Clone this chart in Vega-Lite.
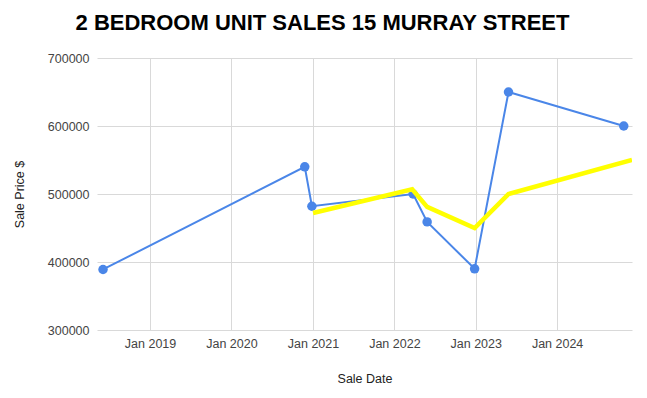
{
  "$schema": "https://vega.github.io/schema/vega-lite/v6.json",
  "width": 535,
  "height": 272,
  "autosize": {"type": "none"},
  "padding": {"left": 97, "top": 58, "right": 15, "bottom": 68},
  "title": {"text": "2 BEDROOM UNIT SALES 15 MURRAY STREET", "font": "Liberation Sans", "fontSize": 22, "fontWeight": "bold", "color": "#000000", "anchor": "middle", "dx": -42, "offset": 17},
  "config": {
    "view": {"stroke": null},
    "axis": {"labelFont": "Liberation Sans", "labelFontSize": 12.5, "labelColor": "#444444", "titleFont": "Liberation Sans", "titleFontSize": 12.5, "titleFontWeight": "normal", "titleColor": "#222222", "gridColor": "#d9d9d9", "gridWidth": 1, "domain": false, "ticks": false}
  },
  "datasets": {
    "sales": [
      {"date": "2018-06-04", "price": 389000},
      {"date": "2020-11-25", "price": 540000},
      {"date": "2020-12-27", "price": 482000},
      {"date": "2022-03-26", "price": 500000},
      {"date": "2022-05-28", "price": 459000},
      {"date": "2022-12-27", "price": 390000},
      {"date": "2023-05-28", "price": 650000},
      {"date": "2024-10-26", "price": 600000}
    ],
    "trend": [
      {"date": "2021-01-01", "price": 472000},
      {"date": "2022-03-22", "price": 507000},
      {"date": "2022-05-28", "price": 481000},
      {"date": "2022-12-27", "price": 450000},
      {"date": "2023-05-28", "price": 500000},
      {"date": "2024-12-02", "price": 550000}
    ]
  },
  "encoding": {
    "x": {"field": "date", "type": "temporal", "title": "Sale Date",
      "scale": {"domain": ["2018-05-08", "2024-12-02"]},
      "axis": {"format": "%b %Y", "tickCount": {"interval": "year", "step": 1}, "labelPadding": 7, "titlePadding": 23, "labelFlush": false, "labelOverlap": false}},
    "y": {"field": "price", "type": "quantitative", "title": "Sale Price $",
      "scale": {"domain": [300000, 700000], "nice": false, "zero": false},
      "axis": {"values": [300000, 400000, 500000, 600000, 700000], "format": "d", "labelPadding": 8, "titlePadding": 21}}
  },
  "layer": [
    {"data": {"name": "sales"}, "mark": {"type": "line", "color": "#4a86e8", "strokeWidth": 2, "point": {"filled": true, "size": 90, "color": "#4a86e8"}}},
    {"data": {"name": "trend"}, "mark": {"type": "line", "color": "#ffff00", "strokeWidth": 4.5, "clip": true}}
  ]
}
